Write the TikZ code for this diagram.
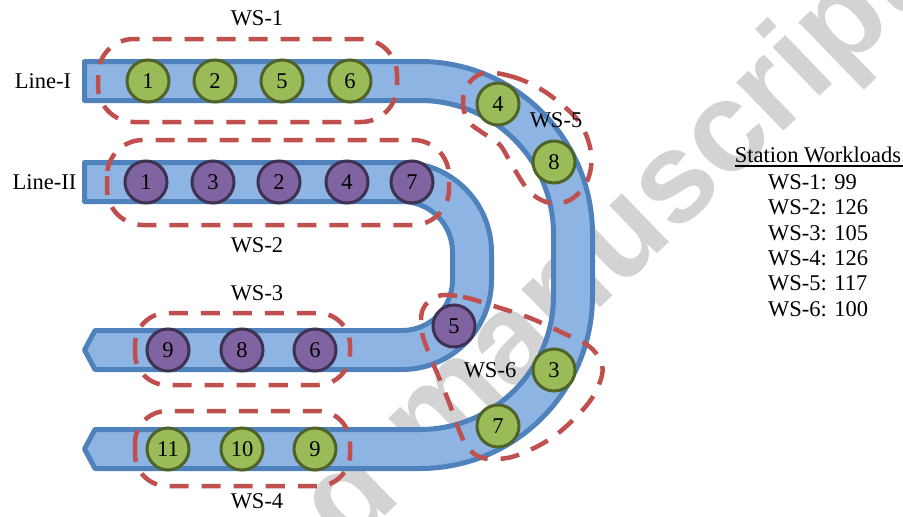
\documentclass[tikz,border=0pt]{standalone}
\usepackage{fontspec}
\setmainfont{Liberation Serif}
\newfontfamily\wmfont{Liberation Sans}
\newcommand\lblfont{\fontsize{22.5}{25.5}\selectfont}
\definecolor{beltfill}{RGB}{141,180,226}
\definecolor{beltedge}{RGB}{79,129,189}
\definecolor{greenfill}{RGB}{155,187,89}
\definecolor{greenedge}{RGB}{79,98,40}
\definecolor{purplefill}{RGB}{128,100,162}
\definecolor{purpleedge}{RGB}{63,49,81}
\definecolor{wsred}{RGB}{192,80,77}
\definecolor{wmgray}{RGB}{211,211,211}
\begin{document}
\begin{tikzpicture}[x=1pt,y=-1pt,
  belt/.style={draw=beltedge,fill=beltfill,line width=5pt,line join=round},
  stgreen/.style={circle,draw=greenedge,fill=greenfill,line width=3pt,
    minimum size=42pt,inner sep=0pt,font=\lblfont},
  stpurple/.style={circle,draw=purpleedge,fill=purplefill,line width=3pt,
    minimum size=42pt,inner sep=0pt,font=\lblfont},
  wsbox/.style={draw=wsred,line width=4.5pt,dash pattern=on 19pt off 13pt},
  lbl/.style={font=\lblfont,inner sep=0pt},
  wmark/.style={text=wmgray,inner sep=0pt,
    font={\wmfont\bfseries\fontsize{128}{150}\selectfont}}]
\useasboundingbox (0,0) rectangle (903,517);

% watermark behind everything
\begin{scope}
  \clip (0,0) rectangle (903,517);
  \node[wmark,rotate=44] (wm) at (435,422) {Accepted manuscript};
\end{scope}

% Line-I conveyor: top run, large U-turn, bottom run ending in an arrow
\path[belt] (84.5,61.5) -- (420,61.5)
  arc[start angle=-90,end angle=0,radius=172.5] -- (592.5,296)
  arc[start angle=0,end angle=90,radius=172.5] -- (95,468.5)
  -- (84.5,449) -- (95,429.5) -- (420,429.5)
  arc[start angle=90,end angle=0,radius=133.5] -- (553.5,234)
  arc[start angle=0,end angle=-90,radius=133.5] -- (84.5,100.5) -- cycle;

% Line-II conveyor: inner, tighter U-turn
\path[belt] (84.5,162.5) -- (402,162.5)
  arc[start angle=-90,end angle=0,radius=89.5] -- (491.5,280)
  arc[start angle=0,end angle=90,radius=89.5] -- (95,369.5)
  -- (84.5,350) -- (95,330.5) -- (402,330.5)
  arc[start angle=90,end angle=0,radius=50.5] -- (452.5,252)
  arc[start angle=0,end angle=-90,radius=50.5] -- (84.5,201.5) -- cycle;

% workstation groupings
\draw[wsbox,rounded corners=36pt] (98,39) rectangle (397,122);
\draw[wsbox,rounded corners=36pt] (107,140) rectangle (449,225);
\draw[wsbox,rounded corners=32pt] (135,313) rectangle (350,385);
\draw[wsbox,rounded corners=32pt] (135,411) rectangle (350,486);
\draw[wsbox] plot[smooth cycle,tension=0.6] coordinates {
  (483,73) (510,76) (537,87) (560,103) (580,123) (590,147) (591,167)
  (585,185) (570,200) (550,203) (530,192) (513,167) (500,145)
  (483,133) (469,122) (463,105) (467,86)};
\draw[wsbox] plot[smooth cycle,tension=0.6] coordinates {
  (438,296) (463,297) (497,307) (530,318) (563,333) (590,347) (602,365)
  (600,382) (590,401) (573,420) (553,437) (530,450) (507,458) (483,458)
  (468,448) (459,430) (450,405) (440,380) (430,356) (422,332) (423,309)};

% Line-I stations
\node[stgreen] (a1) at (148,81) {1};
\node[stgreen] (a2) at (215,81) {2};
\node[stgreen] (a5) at (282,81) {5};
\node[stgreen] (a6) at (350,81) {6};
\node[stgreen] (a4) at (498,104) {4};
\node[stgreen] (a8) at (554,162) {8};
\node[stgreen] (a3) at (554,370) {3};
\node[stgreen] (a7) at (498,426) {7};
\node[stgreen] (a9) at (315,449) {9};
\node[stgreen] (a10) at (242,449) {10};
\node[stgreen] (a11) at (168,449) {11};

% Line-II stations
\node[stpurple] (b1) at (146,182) {1};
\node[stpurple] (b3) at (213,182) {3};
\node[stpurple] (b2) at (279,182) {2};
\node[stpurple] (b4) at (347,182) {4};
\node[stpurple] (b7) at (412,182) {7};
\node[stpurple] (b5) at (454,326) {5};
\node[stpurple] (b6) at (315,350) {6};
\node[stpurple] (b8) at (242,350) {8};
\node[stpurple] (b9) at (168,350) {9};

% labels
\node[lbl] (line1) at (43,81) {Line-I};
\node[lbl] (line2) at (44.5,182) {Line-II};
\node[lbl] (ws1) at (257,18.5) {WS-1};
\node[lbl] (ws2) at (257,245) {WS-2};
\node[lbl] (ws3) at (257,293.5) {WS-3};
\node[lbl] (ws4) at (257,501) {WS-4};
\node[lbl] (ws5) at (556,120) {WS-5};
\node[lbl] (ws6) at (490,370) {WS-6};

% workload table
\node[lbl] (sw) at (818,154.5) {Station Workloads};
\draw[line width=1.6pt] ([yshift=-3.8pt]sw.base west) -- ([yshift=-3.8pt,xshift=2pt]sw.base east);
\node[lbl,anchor=west] (l1) at (768,182) {WS-1: 99};
\node[lbl,anchor=west] (l2) at (768,207.5) {WS-2: 126};
\node[lbl,anchor=west] (l3) at (768,233) {WS-3: 105};
\node[lbl,anchor=west] (l4) at (768,258) {WS-4: 126};
\node[lbl,anchor=west] (l5) at (768,283.5) {WS-5: 117};
\node[lbl,anchor=west] (l6) at (768,309) {WS-6: 100};
\end{tikzpicture}
\end{document}
